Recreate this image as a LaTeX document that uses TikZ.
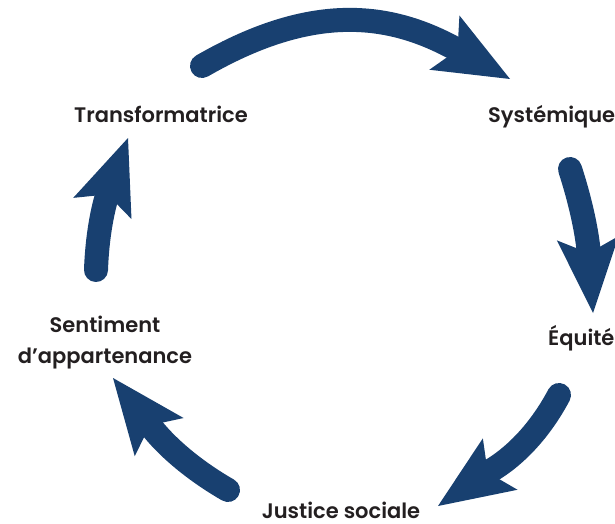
\documentclass[tikz,border=0pt]{standalone}
\usepackage{fontspec}
\setmainfont{Poppins}[BoldFont={Poppins SemiBold}]
\usetikzlibrary{arrows.meta}
\definecolor{cycleblue}{RGB}{24,64,112}
\definecolor{labelink}{RGB}{35,31,32}
\begin{document}
\begin{tikzpicture}[x=1pt,y=1pt,
  flow/.style={draw=cycleblue, line width=24pt, line cap=round,
    -{Stealth[length=75pt,width=62pt,inset=15pt,line width=0pt]}},
  stage/.style={font=\bfseries\fontsize{21}{31}\selectfont, text=labelink, inner sep=0pt}]
\useasboundingbox (0,0) rectangle (615,-524);
\clip (0,0) rectangle (615,-524);
\fill[white] (0,0) rectangle (615,-524);
% stage labels, clockwise from top left
\node[stage, anchor=base] (transf) at (161,-123) {Transformatrice};
\node[stage, anchor=base west] (syst) at (488,-122) {Systémique};
\node[stage, anchor=base west] (equi) at (548,-345) {Équité};
\node[stage, anchor=base] (just) at (341,-518) {Justice sociale};
\node[stage, anchor=base, align=center] (sent) at (105,-363) {Sentiment\\d’appartenance};
% arrow ends: round-capped tail and arrowhead tip
\coordinate (a1s) at (202,-66);  \coordinate (a1t) at (510,-79);
\coordinate (a2s) at (570,-169); \coordinate (a2t) at (593,-313);
\coordinate (a3s) at (559,-395); \coordinate (a3t) at (438,-506);
\coordinate (a4s) at (228,-490); \coordinate (a4t) at (113,-378);
\coordinate (a5s) at (96,-270);  \coordinate (a5t) at (128,-138);
% the cycle, clockwise
\draw[flow] (a1s) to[out=30,in=151,looseness=1.1] (a1t);
\draw[flow] (a2s) to[out=-72,in=94] (a2t);
\draw[flow] (a3s) to[out=-118,in=34] (a3t);
\draw[flow] (a4s) to[out=150,in=-52] (a4t);
\draw[flow] (a5s) to[out=88,in=-110] (a5t);
\end{tikzpicture}
\end{document}
